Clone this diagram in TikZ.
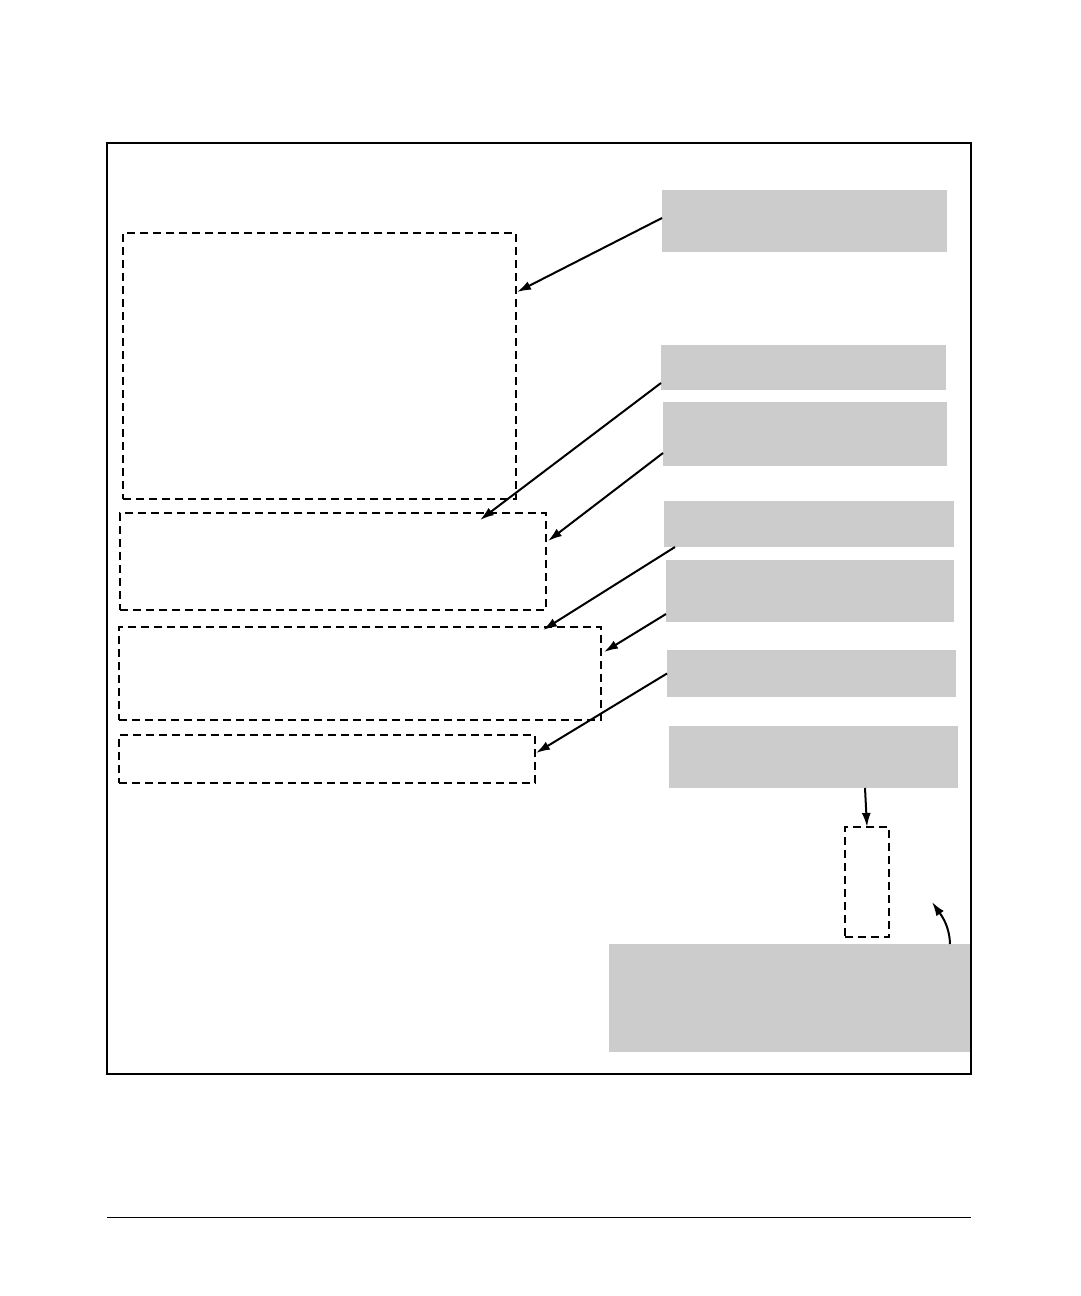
\documentclass[tikz,border=0pt]{standalone}
\usetikzlibrary{arrows.meta}
\begin{document}
\begin{tikzpicture}[x=1pt,y=-1pt]
        \tikzstyle{callout}=[rectangle,fill=black!20,inner sep=0pt,outer sep=0pt]
        \tikzstyle{region}=[rectangle,draw=black,line width=1.1pt,dash pattern=on 8pt off 5pt,inner sep=0pt,outer sep=0pt]
        \tikzstyle{pointer}=[draw,line width=2pt,-{Latex[length=14pt,width=9pt]}]
        \useasboundingbox (0,0) rectangle (1080,1296);
       \begin{scope}
         % frame and footer rule
         \node [rectangle,draw,line width=2.2pt,minimum width=864,minimum height=931,inner sep=0pt] (frame) at (539,608.5) {};
         \draw [line width=0.9pt] (107,1217) -- (971,1217);

         % dashed regions
         \node [region,minimum width=393,minimum height=266] (d1) at (319.5,366) {};
         \node [region,minimum width=426,minimum height=97] (d2) at (333,561.5) {};
         \node [region,minimum width=482,minimum height=93] (d3) at (360,673.5) {};
         \node [region,minimum width=416,minimum height=48] (d4) at (327,759) {};
         \node [region,minimum width=44,minimum height=110] (d5) at (867,882) {};

         % grey callouts
         \node [callout,minimum width=285,minimum height=62] (g1) at (804.5,221) {};
         \node [callout,minimum width=285,minimum height=45] (g2) at (803.5,367.5) {};
         \node [callout,minimum width=284,minimum height=64] (g3) at (805,434) {};
         \node [callout,minimum width=290,minimum height=46] (g4) at (809,524) {};
         \node [callout,minimum width=288,minimum height=62] (g5) at (810,591) {};
         \node [callout,minimum width=289,minimum height=47] (g6) at (811.5,673.5) {};
         \node [callout,minimum width=289,minimum height=62] (g7) at (813.5,757) {};
         \node [callout,minimum width=361,minimum height=108] (g8) at (789.5,998) {};

         % arrow targets
         \coordinate (t1) at (517,292);
         \coordinate (t2) at (480,520);
         \coordinate (t3) at (548,541);
         \coordinate (t4) at (543,630);
         \coordinate (t5) at (604,652);
         \coordinate (t6) at (536,753);
         \coordinate (t8) at (932,902);

         \path[pointer] ([yshift=3pt]g1.west) -- (t1);
         \path[pointer] ([yshift=7pt]g2.south west) -- (t2);
         \path[pointer] ([yshift=13pt]g3.south west) -- (t3);
         \path[pointer] ([xshift=11pt]g4.south west) -- (t4);
         \path[pointer] ([yshift=8pt]g5.south west) -- (t5);
         \path[pointer] (g6.west) -- (t6);
         \path[pointer] ([xshift=51.5pt]g7.south) -- (d5.north);
         \path[pointer] ([xshift=-20pt]g8.north east) to[out=92,in=-55] (t8);
        \end{scope}
      \end{tikzpicture}
\end{document}
